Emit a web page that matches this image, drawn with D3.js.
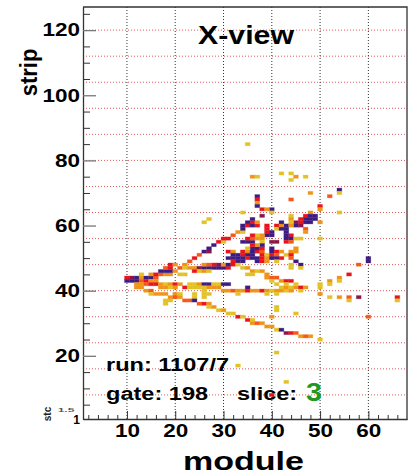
<!DOCTYPE html>
<html><head><meta charset="utf-8">
<script src="https://cdn.jsdelivr.net/npm/d3@7"></script>
<style>body{margin:0;background:#fff}svg{display:block}text{font-family:"Liberation Sans",Arial,sans-serif;font-weight:bold}</style>
</head><body>
<script>
// ---- data ----
const xTicks = [10,20,30,40,50,60];
const yTicks = [20,40,60,80,100,120];
const gridStrips = [8,16,24,32,40,48,56,64,72,80,88,96,104,112,120];
const levelColors = ["#e2c226","#ef9418","#f4581a","#e8141c","#8c1448","#3c1c80"];
// [module, strip, level 1..6]
const outlierHits = [
 [35,85,1],[36,75,2],[37,75,1],[42,76,1],[44,76,1],[45,75,2],[47,75,1],[44,74,1],
 [54,71,6],[54,70,1],[48,70,2],[52,69,3],[44,68,3],
 [50,66,4],[50,65,2],[54,64,1],[48,64,2],[50,61,2],[50,56,1],
 [50,42,1],[50,41,1],[52,43,2],[52,42,1],[54,44,2],[54,43,1],[56,45,4],[58,48,3],[60,50,6],[60,49,6],
 [50,39,2],[52,38,1],[54,38,2],[56,38,3],[56,37,1],[58,38,5],[66,38,4],[66,37,1],[60,32,3],
 [50,25,1],[41,21,1],[33,17,1],[43,12,1],[40,8,4],[41,35,1],[41,34,1],[45,33,1],[40,32,2]
];
const coreHits = [
 [10,44,4],[11,44,5],[12,44,6],[13,44,2],[14,44,6],[15,44,6],[16,44,3],
 [10,43,6],[11,43,6],[12,43,6],[13,43,3],[14,43,4],[15,43,2],[16,43,2],
 [12,42,2],[13,42,2],[14,42,3],[15,42,4],
 [12,41,2],[13,41,2],[14,40,2],[15,40,3],[15,39,1],[16,39,2],
 [13,45,1],[15,45,2],[16,45,4],[17,45,3],[18,45,2],[19,45,2],[21,45,1],[22,45,1],
 [19,46,6],[20,46,2]
];
const upperTrackHits = [
 [17,46,6],[18,46,6],[18,47,3],[19,47,4],[19,48,4],[20,48,2],[21,47,3],[22,48,2],[23,49,3],[24,50,4],
 [25,51,3],[26,52,6],[27,52,5],[27,53,6],[28,54,6],[29,55,4],[30,55,1],[30,56,4],[31,56,4],[32,57,3],
 [33,58,2],[34,58,1],[34,59,6],[34,60,6],[35,60,4],[35,61,6],[36,61,4],[36,62,6],
 [34,64,1],[27,62,1],[26,61,1],
 [37,69,6],[37,68,4],[37,67,2],[37,66,6],[38,65,4],[40,65,6],[39,65,2],[40,64,1],[38,63,5]
];
const clusterHits = [
 [47,63,4],[48,63,6],[49,63,6],[47,62,6],[48,62,6],[49,62,6],[48,61,6],[47,61,6],[46,62,4],[46,61,4],
 [45,61,5],[45,60,6],[46,60,5],[44,63,1],[44,62,2],[44,61,1],[43,60,6],[44,60,2],[47,59,3],[47,58,2],
 [36,60,6],[37,60,4],[37,61,2],
 [39,60,4],[39,59,4],[39,58,4],[39,57,6],[40,57,6],[40,58,6],
 [41,60,4],[41,59,1],[42,60,2],[42,59,6],[42,61,6],[43,59,6],[43,58,6],[44,57,4],[43,57,6],[43,56,6],
 [44,56,6],[45,56,1],[46,56,1],[43,55,4],[44,55,3],
 [34,55,6],[35,55,6],[36,55,6],[35,56,4],[36,56,3],[37,56,2],[37,57,1],[38,56,2],[38,55,1],[40,55,5],[41,55,5],[36,57,4],[38,57,2],
 [31,52,4],[32,52,2],[34,52,4],[35,52,2],[36,52,6],[37,52,4],[38,52,3],[40,52,6],[41,52,4],[42,52,2],
 [32,51,6],[33,51,6],[34,51,4],[35,51,6],[36,51,6],[38,51,4],[39,51,1],[40,51,4],[41,51,3],[43,51,1],
 [31,50,6],[32,50,6],[33,50,6],[34,50,6],[35,50,4],[36,50,6],[37,50,6],[38,50,4],[39,50,2],[40,50,6],[41,50,6],[42,50,4],
 [32,49,4],[33,49,6],[34,49,6],[37,49,6],[38,49,4],[39,49,2],[41,49,1],
 [36,53,6],[37,53,6],[38,53,4],[40,53,6],[35,53,1],[38,54,6],[37,54,2],[36,54,4],
 [44,52,2],[45,52,2],[44,51,4],[44,50,3],[45,49,6],[46,48,6],[46,47,1],[44,48,1],[45,53,2]
];
const bandHits = [
 [22,47,1],[23,47,2],[24,47,2],[25,47,5],[26,47,6],[27,47,6],[28,47,6],[29,47,6],[30,47,6],[31,47,4],
 [24,46,4],[25,46,1],[26,46,2],[27,46,1],[28,48,4],[29,48,5],[30,48,2],[31,48,6],[32,48,4],[33,48,1],[26,48,2],[27,48,3],
 [34,47,1],[35,47,2],[36,46,2],[37,46,1],[35,45,1],[36,45,1],[38,46,2],[39,45,2],
 [39,44,2],[40,44,3],[41,44,3],[42,43,2],[43,43,4],[40,43,1],[41,42,1],[44,43,4],[44,47,1],
 [16,42,4],[17,42,2],[18,42,1],[19,42,2],[20,42,4],[21,42,2],[22,41,4],[23,42,1],[24,42,1],[25,42,2],[26,42,6],[27,42,6],[28,42,1],[28,41,2],
 [17,41,2],[18,41,2],[19,41,1],[20,41,2],[23,41,1],[24,41,1],[25,41,1],[26,41,1],[27,41,2],
 [29,42,1],[30,42,6],[31,42,6],[29,41,2],[30,40,2],[31,40,2],[32,40,3],[33,40,2],[34,40,2],[33,39,1],[35,41,6],[35,40,4],
 [36,40,2],[37,40,2],[38,40,4],[39,40,2],[40,40,1],[41,40,2],[42,40,2],[43,40,1],[44,40,2],[39,39,1],[41,39,1],
 [42,41,1],[43,41,2],[44,41,1],[45,41,2],[46,41,4],[47,41,2],[45,42,1],[43,42,1],[46,40,1],
 [18,37,1],[19,37,1],[18,36,1],[20,39,2],[21,39,1],[24,39,1],[24,38,1],[26,38,1],[26,39,1],[26,40,1],[27,39,1]
];
const lowerTrackHits = [
 [17,39,2],[18,39,2],[19,38,2],[20,38,3],[21,38,2],[22,37,3],[23,37,3],[24,37,6],[25,36,3],[26,36,4],
 [27,36,2],[27,35,1],[28,35,2],[29,34,1],[30,34,2],[31,33,1],[32,33,1],[33,32,4],[34,32,1],[35,31,4],
 [36,31,1],[36,30,2],[37,30,3],[38,30,2],[39,29,2],[40,29,2],[41,28,1],[42,28,6],[43,27,5],[44,27,4],
 [45,27,3],[46,26,2],[47,26,3],[48,26,2]
];
const hits = [].concat(outlierHits, coreHits, upperTrackHits, clusterHits, bandHits, lowerTrackHits);

// ---- chart ----
const W = 413, H = 476;
const L = 83, R = 407, T = 7, B = 419;
const svg = d3.select("body").append("svg").attr("width", W).attr("height", H);
const x = d3.scaleLinear().domain([0.9, 68]).range([L, R]);
const y = d3.scaleLinear().domain([0.6, 127.1]).range([B, T]);
const color = d3.scaleOrdinal().domain([1,2,3,4,5,6]).range(levelColors);

// grid
svg.append("g").selectAll("line").data(gridStrips).join("line")
  .attr("x1", L).attr("x2", R).attr("y1", d => y(d)).attr("y2", d => y(d))
  .attr("stroke", "#e05a5a").attr("stroke-width", 1).attr("stroke-dasharray", "1,2");
svg.append("g").selectAll("line").data(xTicks).join("line")
  .attr("x1", d => x(d)).attr("x2", d => x(d)).attr("y1", T).attr("y2", B)
  .attr("stroke", "#333").attr("stroke-width", 1).attr("stroke-dasharray", "1,2");

// cells
svg.append("g").selectAll("rect").data(hits).join("rect")
  .attr("x", d => x(d[0]-0.5)).attr("width", d => x(d[0]+0.5) - x(d[0]-0.5))
  .attr("y", d => y(d[1]+0.5)).attr("height", d => y(d[1]-0.5) - y(d[1]+0.5))
  .attr("fill", d => color(d[2]))
  .attr("stroke", d => color(d[2])).attr("stroke-width", 0.8).attr("stroke-opacity", 0.35);

// frame top/right
svg.append("path").attr("d", `M${L},${T}H${R}V${B}`).attr("fill","none").attr("stroke","#333").attr("stroke-width",1.3);

// axes
const xMinor = d3.range(2, 68, 2).filter(v => v % 10 !== 0);
const yMinor = d3.range(5, 127, 5).filter(v => v % 20 !== 0);
svg.append("g").attr("transform", `translate(0,${B})`)
  .call(d3.axisBottom(x).tickValues(xMinor).tickSizeInner(-4).tickSizeOuter(0).tickFormat(""))
  .call(g => g.selectAll("line").attr("stroke","#333"));
const gx = svg.append("g").attr("transform", `translate(0,${B})`)
  .call(d3.axisBottom(x).tickValues(xTicks).tickSizeInner(-8).tickSizeOuter(0).tickPadding(5));
gx.select(".domain").attr("stroke","#333").attr("stroke-width",1.3);
gx.selectAll("line").attr("stroke","#333");
gx.selectAll("text").attr("font-size",18).attr("fill","#000").attr("font-family","Liberation Sans, Arial").attr("font-weight","bold")
  .attr("transform","scale(1.25,1)");

svg.append("g").attr("transform", `translate(${L},0)`)
  .call(d3.axisLeft(y).tickValues(yMinor).tickSizeInner(-7).tickSizeOuter(0).tickFormat(""))
  .call(g => g.selectAll("line").attr("stroke","#333"));
const gy = svg.append("g").attr("transform", `translate(${L},0)`)
  .call(d3.axisLeft(y).tickValues(yTicks).tickSizeInner(-13).tickSizeOuter(0).tickPadding(2.4));
gy.select(".domain").attr("stroke","#333").attr("stroke-width",1.3);
gy.selectAll("line").attr("stroke","#777").attr("stroke-width",1.3);
gy.selectAll("text").attr("font-size",18).attr("fill","#000").attr("font-family","Liberation Sans, Arial").attr("font-weight","bold")
  .attr("transform","scale(1.25,1)");

// bottom-left artefacts
svg.append("text").attr("x", 80).attr("y", 424).attr("text-anchor","end").attr("font-size",12).text("1");
svg.append("text").attr("transform","translate(51,414) rotate(-90)").attr("text-anchor","middle").attr("font-size",10).attr("fill","#222").text("stc");
svg.append("text").attr("transform","translate(66,412) scale(1,0.45)").attr("text-anchor","middle").attr("font-size",12).attr("fill","#555").text("1.5");

// titles
svg.append("text").attr("x", 246).attr("y", 44).attr("text-anchor","middle").attr("font-size",26)
  .attr("textLength",96).attr("lengthAdjust","spacingAndGlyphs").text("X-view");
svg.append("text").attr("x", 243.5).attr("y", 470).attr("text-anchor","middle").attr("font-size",26)
  .attr("textLength",121).attr("lengthAdjust","spacingAndGlyphs").text("module");
svg.append("text").attr("transform","translate(37,72.5) scale(1.05,1) rotate(-90)").attr("text-anchor","middle").attr("font-size",22).text("strip");

// info text
svg.append("text").attr("transform","translate(106,370.5) scale(1.24,1)").attr("font-size",19).text("run: 1107/7");
svg.append("text").attr("transform","translate(106,400) scale(1.24,1)").attr("font-size",19).text("gate: 198");
svg.append("text").attr("transform","translate(237,400) scale(1.24,1)").attr("font-size",19).text("slice:");
svg.append("text").attr("transform","translate(306,401) scale(1.1,1)").attr("font-size",26).attr("fill","#1f9a1f").text("3");
</script>
</body></html>
